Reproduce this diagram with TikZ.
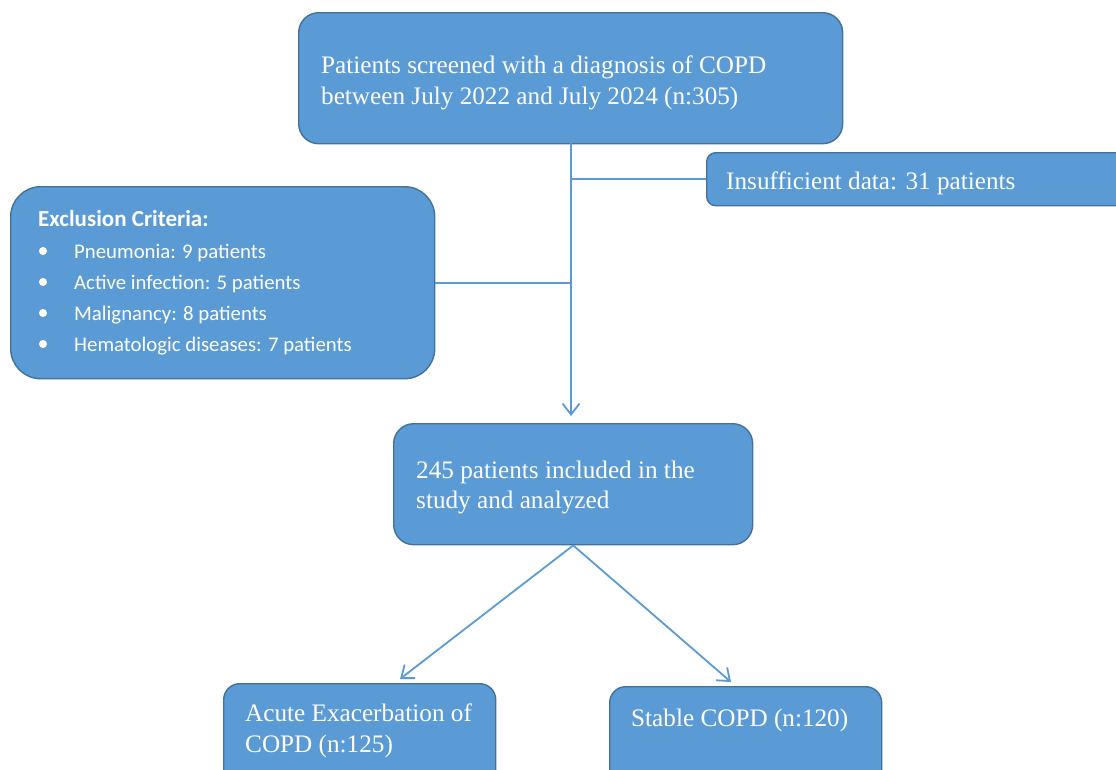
\documentclass[tikz,border=0pt]{standalone}
\usepackage{fontspec}
\setmainfont{Liberation Serif}
\newfontfamily\calfont{Carlito}
\usetikzlibrary{arrows.meta}
\definecolor{boxfill}{HTML}{5B9BD5}
\definecolor{boxdraw}{HTML}{41719C}
\definecolor{linecol}{HTML}{5B9BD5}
\tikzset{
  box/.style={draw=boxdraw, fill=boxfill, line width=1.4pt, anchor=north west, inner sep=0pt},
  txt/.style={text=white, anchor=base west, inner sep=0pt, font=\fontsize{25.2}{30}\selectfont},
  ctxt/.style={text=white, anchor=base west, inner sep=0pt, font=\calfont\fontsize{20.8}{24}\selectfont},
  conn/.style={draw=linecol, line width=1.8pt},
  arr/.style={conn, -{Straight Barb[length=11pt,width=17pt,line width=1.8pt]}},
  bul/.style={circle, fill=white, inner sep=0pt, minimum size=8pt}
}
\begin{document}
\begin{tikzpicture}[x=1pt,y=-1pt]
\useasboundingbox (0,0) rectangle (1116,769);
\clip (0,0) rectangle (1116,769);
% boxes
\node[box, rounded corners=20pt, minimum width=544pt, minimum height=131pt] (top) at (298,12) {};
\node[box, rounded corners=9pt, minimum width=430pt, minimum height=53pt] (ins) at (706,152) {};
\node[box, rounded corners=30pt, minimum width=424pt, minimum height=192pt] (excl) at (10,186) {};
\node[box, rounded corners=20pt, minimum width=359pt, minimum height=121pt] (mid) at (393,423) {};
\node[box, rounded corners=16pt, minimum width=272pt, minimum height=110pt] (acute) at (223,683) {};
\node[box, rounded corners=16pt, minimum width=272pt, minimum height=110pt] (stable) at (609,686) {};
% texts
\node[txt] (t1a) at (321,73) {Patients screened with a diagnosis of COPD};
\node[txt] (t1b) at (321,104) {between July 2022 and July 2024 (n:305)};
\node[txt] (t2) at (726,189) {Insufficient data: 31 patients};
\node[ctxt, font=\calfont\bfseries\fontsize{23}{27}\selectfont] (eh) at (38,226) {Exclusion Criteria:};
\node[ctxt] (e1) at (74,258) {Pneumonia: 9 patients};
\node[ctxt] (e2) at (74,289) {Active infection: 5 patients};
\node[ctxt] (e3) at (74,320) {Malignancy: 8 patients};
\node[ctxt] (e4) at (74,351) {Hematologic diseases: 7 patients};
\node[bul] (b1) at (43,251) {};
\node[bul] (b2) at (43,282) {};
\node[bul] (b3) at (43,313) {};
\node[bul] (b4) at (43,344) {};
\node[txt] (t3a) at (416,478) {245 patients included in the};
\node[txt] (t3b) at (416,508) {study and analyzed};
\node[txt] (t4a) at (245,721) {Acute Exacerbation of};
\node[txt] (t4b) at (245,752) {COPD (n:125)};
\node[txt] (t5) at (631,726) {Stable COPD (n:120)};
% connectors
\coordinate (vtip) at (571,416);
\coordinate (atip) at (400,679);
\coordinate (stip) at (731,682);
\coordinate (vtop) at (571,143);
\draw[arr] (vtop) -- (vtip);
\draw[conn] (vtop |- ins.west) -- (ins.west);
\draw[conn] (excl.east) -- (excl.east -| vtop);
\draw[arr] (mid.south) -- (atip);
\draw[arr] (mid.south) -- (stip);
\end{tikzpicture}
\end{document}
